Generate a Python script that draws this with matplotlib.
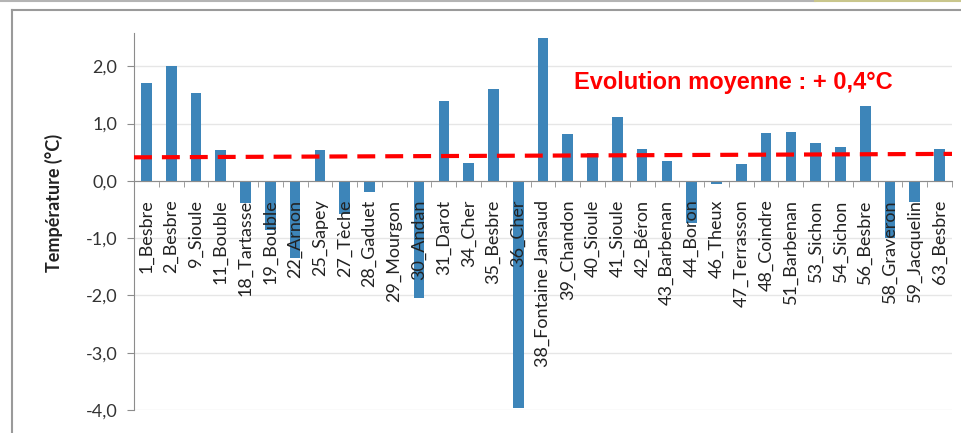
import numpy as np
import matplotlib
matplotlib.use("Agg")
import matplotlib.pyplot as plt
from matplotlib.lines import Line2D

plt.rcParams['font.family'] = ['Lato', 'DejaVu Sans']

########### Data

stations = ["1_Besbre", "2_Besbre", "9_Sioule", "11_Bouble", "18_Tartasse",
            "19_Bouble", "22_Arnon", "25_Sapey", "27_Tèche", "28_Gaduet",
            "29_Mourgon", "30_Andan", "31_Darot", "34_Cher", "35_Besbre",
            "36_Cher", "38_Fontaine Jansaud", "39_Chandon", "40_Sioule",
            "41_Sioule", "42_Béron", "43_Barbenan", "44_Boron", "46_Theux",
            "47_Terrasson", "48_Coindre", "51_Barbenan", "53_Sichon",
            "54_Sichon", "56_Besbre", "58_Graveron", "59_Jacquelin", "63_Besbre"]
evolution = [1.70, 2.00, 1.54, 0.54, -0.38,
             -0.86, -1.35, 0.54, -0.58, -0.19,
             0.0, -2.04, 1.40, 0.31, 1.60,
             -3.97, 2.49, 0.81, 0.48,
             1.11, 0.56, 0.34, -0.73, -0.05,
             0.29, 0.84, 0.86, 0.66,
             0.59, 1.31, -1.00, -0.37, 0.56]
mean_line = [0.41, 0.47]   # hand drawn dashed line, left / right end
mean_text = "Evolution moyenne : + 0,4°C"
yticks = [-4, -3, -2, -1, 0, 1, 2]

x = np.arange(len(stations))

fig = plt.figure(figsize=(9.61, 4.33), dpi=100)
ax = fig.add_axes([134/961, 1-410/433, (952-134)/961, (410-33)/433])

ax.bar(x, evolution, width=0.43, color='#3d85b9', zorder=3)

# dashed red mean line
ax.plot([-0.5, len(stations)-0.5], mean_line, color='#ff0000', lw=3,
        dashes=(4.3, 2.4), zorder=4)

ax.set_xlim(-0.5, len(stations)-0.5)
ax.set_ylim(-4.0, 2.58)
ax.set_yticks(yticks)
ax.set_yticklabels([("%.1f" % v).replace('.', ',') for v in yticks])
ax.yaxis.grid(True, color='#e6e6e6', lw=1, zorder=0)

# category axis sits on the zero line
ax.spines['bottom'].set_position(('data', 0))
for s in ['top', 'right']:
    ax.spines[s].set_visible(False)
ax.spines['left'].set_color('#8c8c8c')
ax.spines['bottom'].set_color('#8c8c8c')
ax.spines['bottom'].set_zorder(5)

ax.set_xticks(x)
ax.set_xticklabels([])
ax.set_xticks(np.arange(len(stations)+1) - 0.5, minor=True)
ax.tick_params(axis='x', which='major', length=0)
ax.tick_params(axis='x', which='minor', length=4, color='#8c8c8c', direction='out')
ax.tick_params(axis='y', length=5, color='#8c8c8c', labelsize=13, labelcolor='#333333', pad=7)

# station names drawn over the bars, just under the zero line
for i, name in enumerate(stations):
    ax.annotate(name, (x[i], 0), xytext=(0, -13.5), textcoords='offset points',
                rotation=90, ha='center', va='top', fontsize=13, color='#222222',
                zorder=6)

fig.text(54/961, 1-203/433, "Température (°C)", rotation=90, ha='center', va='center',
         fontsize=13, fontweight='bold', color='#222222')

fig.text(574/961, 1-83/433, mean_text, ha='left', va='center', color='#ff0000',
         fontsize=17, fontweight='bold', family=['Liberation Sans', 'DejaVu Sans'])

############ frame around the pasted chart

fig.add_artist(Line2D([0, 815/961], [1-0.5/433, 1-0.5/433], color='#b4b4b4', lw=1.5))
fig.add_artist(Line2D([815/961, 1], [1-0.5/433, 1-0.5/433], color='#c9c68c', lw=1.5))
fig.add_artist(Line2D([12/961, 1], [1-9.5/433, 1-9.5/433], color='#9a9a9a', lw=1.5))
fig.add_artist(Line2D([12/961, 12/961], [0, 1-9.5/433], color='#9a9a9a', lw=1.5))

fig.savefig("out.png", dpi=100)
